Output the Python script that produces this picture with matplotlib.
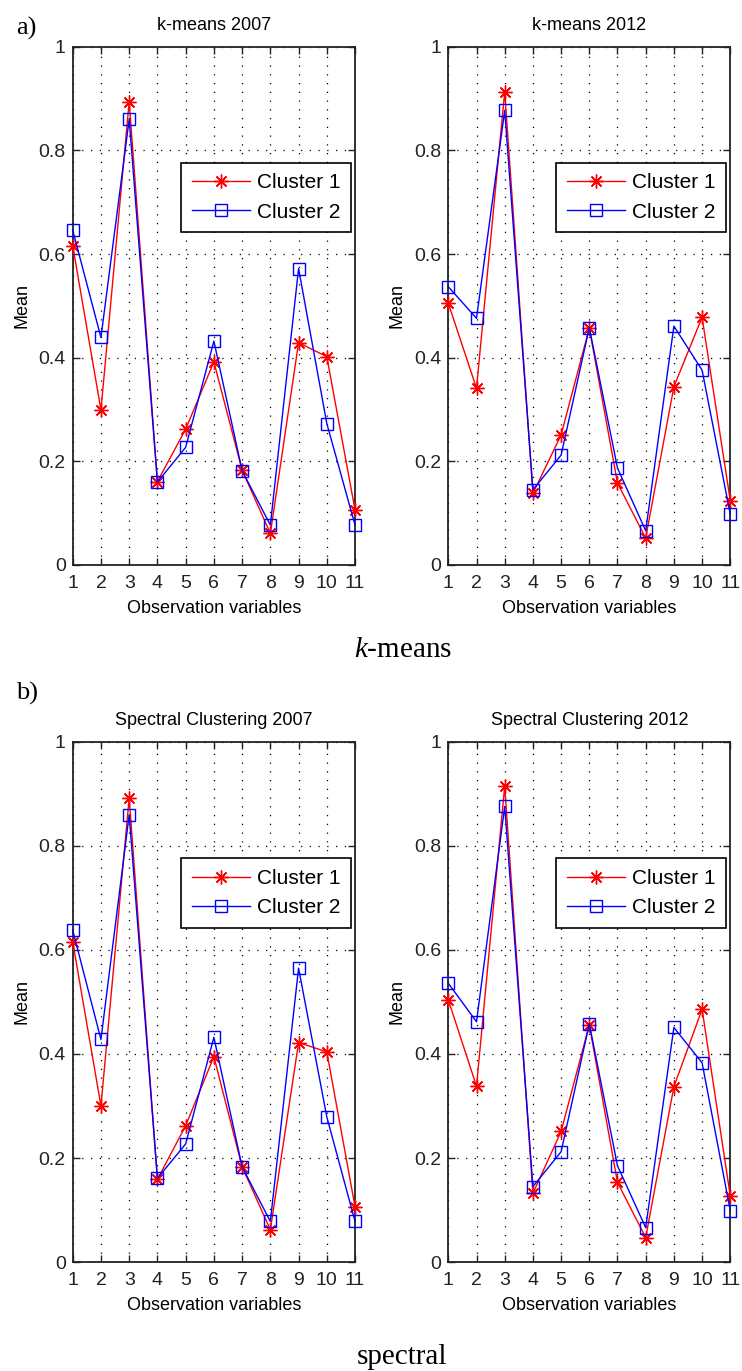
import matplotlib
matplotlib.use("Agg")
import matplotlib.pyplot as plt

plt.rcParams['font.family'] = ['Liberation Sans', 'DejaVu Sans']
plt.rcParams['mathtext.fontset'] = 'custom'
plt.rcParams['mathtext.it'] = 'Liberation Serif:italic'
plt.rcParams['mathtext.rm'] = 'Liberation Serif'

variables = [1, 2, 3, 4, 5, 6, 7, 8, 9, 10, 11]
y_ticks = [0, 0.2, 0.4, 0.6, 0.8, 1]
y_tick_labels = ["0", "0.2", "0.4", "0.6", "0.8", "1"]

kmeans_2007_c1 = [0.616, 0.299, 0.894, 0.161, 0.262, 0.392, 0.183, 0.061, 0.429, 0.402, 0.106]
kmeans_2007_c2 = [0.646, 0.439, 0.860, 0.160, 0.227, 0.432, 0.182, 0.077, 0.572, 0.273, 0.077]
kmeans_2012_c1 = [0.505, 0.341, 0.913, 0.138, 0.251, 0.457, 0.158, 0.052, 0.344, 0.478, 0.124]
kmeans_2012_c2 = [0.537, 0.476, 0.877, 0.145, 0.212, 0.458, 0.187, 0.066, 0.461, 0.376, 0.098]
spectral_2007_c1 = [0.616, 0.300, 0.892, 0.159, 0.262, 0.395, 0.183, 0.062, 0.422, 0.404, 0.106]
spectral_2007_c2 = [0.638, 0.428, 0.860, 0.161, 0.227, 0.432, 0.183, 0.078, 0.565, 0.279, 0.078]
spectral_2012_c1 = [0.504, 0.338, 0.915, 0.132, 0.251, 0.456, 0.153, 0.047, 0.337, 0.486, 0.127]
spectral_2012_c2 = [0.536, 0.462, 0.876, 0.145, 0.212, 0.458, 0.185, 0.066, 0.451, 0.383, 0.099]

titles = ["k-means 2007", "k-means 2012", "Spectral Clustering 2007", "Spectral Clustering 2012"]
series = [(kmeans_2007_c1, kmeans_2007_c2), (kmeans_2012_c1, kmeans_2012_c2),
          (spectral_2007_c1, spectral_2007_c2), (spectral_2012_c1, spectral_2012_c2)]

fig = plt.figure(figsize=(7.42, 13.71), dpi=100)

# axes rectangles in figure fraction
positions = [
    [0.098, 0.5879, 0.3805, 0.378],
    [0.6042, 0.5879, 0.380, 0.378],
    [0.098, 0.0795, 0.3805, 0.3793],
    [0.6042, 0.0795, 0.380, 0.3793],
]

for pos, title, (c1, c2) in zip(positions, titles, series):
    ax = fig.add_axes(pos)
    ax.plot(variables, c1, color='red', lw=1.0, marker=(8, 2, 0), ms=10,
            mew=1.0, label='Cluster 1', clip_on=False, zorder=3)
    ax.plot(variables, c2, color='blue', lw=1.0, marker='s', ms=8.5,
            mfc='none', mew=1.0, label='Cluster 2', clip_on=False, zorder=4)
    ax.set_xlim(1, 11)
    ax.set_ylim(0, 1)
    ax.set_xticks(variables)
    ax.set_xticklabels([str(v) for v in variables])
    ax.set_yticks(y_ticks)
    ax.set_yticklabels(y_tick_labels)
    ax.tick_params(direction='in', top=True, right=True, length=5, width=1.0,
                   labelsize=14, colors='#222222')
    ax.tick_params(axis='x', pad=7)
    ax.tick_params(axis='y', pad=5)
    ax.grid(True, color='black', lw=0.9, linestyle=(0, (1, 6)))
    for s in ax.spines.values():
        s.set_linewidth(1.3)
        s.set_color('#222222')
    ax.set_title(title, fontsize=13, pad=12)
    ax.set_xlabel("Observation variables", fontsize=13, labelpad=6)
    ax.set_ylabel("Mean", fontsize=13, labelpad=6)
    leg = ax.legend(loc='upper right', bbox_to_anchor=(0.986, 0.776),
                    borderaxespad=0, fontsize=15, fancybox=False, framealpha=1,
                    edgecolor='black', handlelength=2.8, handletextpad=0.35,
                    borderpad=0.5, labelspacing=0.5)
    leg.get_frame().set_linewidth(1.2)
    leg.set_zorder(5)

fig.text(0.036, 0.9796, "a)", fontsize=19, family='Liberation Serif', ha='center', va='center')
fig.text(0.036, 0.4945, "b)", fontsize=19, family='Liberation Serif', ha='center', va='center')
fig.text(0.543, 0.5259, r"$\mathit{k}$-means", fontsize=21, family='Liberation Serif',
         ha='center', va='center')
fig.text(0.542, 0.0102, "spectral", fontsize=21, family='Liberation Serif',
         ha='center', va='center')

fig.savefig("out.png", dpi=100)
